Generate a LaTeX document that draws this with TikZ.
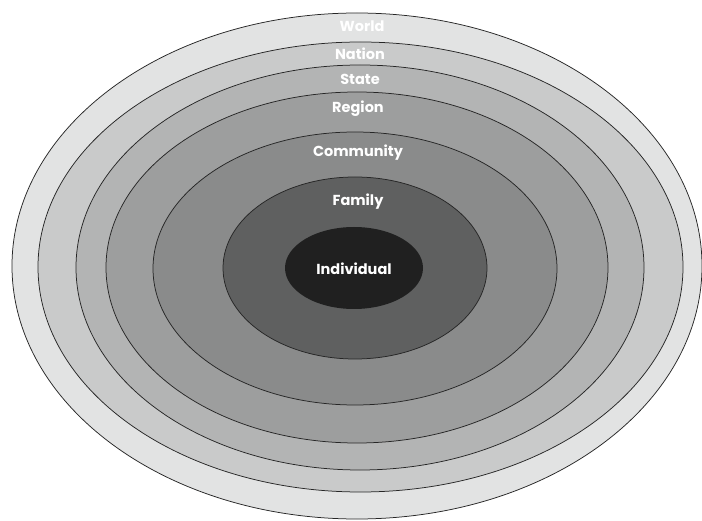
\documentclass[tikz,border=0pt]{standalone}
\usepackage{fontspec}
\setsansfont{Poppins}

\definecolor{worldgray}{HTML}{E2E3E3}
\definecolor{nationgray}{HTML}{C9CACA}
\definecolor{stategray}{HTML}{B3B4B4}
\definecolor{regiongray}{HTML}{9D9E9E}
\definecolor{communitygray}{HTML}{8A8B8B}
\definecolor{familygray}{HTML}{5F6060}
\definecolor{individualgray}{HTML}{202020}

\begin{document}
\begin{tikzpicture}[x=1pt,y=-1pt,
  ring/.style={draw=black!85, line width=0.75pt},
  lbl/.style={text=white, inner sep=0pt, font=\sffamily\bfseries\fontsize{14.5}{15}\selectfont}]
\useasboundingbox (0,0) rectangle (702,521);
\clip (0,0) rectangle (702,521);

\fill[white] (0,0) rectangle (702,521);

% rings, outside in
\filldraw[ring, fill=worldgray]      (357,266)   ellipse [x radius=345,   y radius=253];
\filldraw[ring, fill=nationgray]     (360.5,267) ellipse [x radius=322.5, y radius=225];
\filldraw[ring, fill=stategray]      (360,267.5) ellipse [x radius=284,   y radius=202.5];
\filldraw[ring, fill=regiongray]     (357,267.5) ellipse [x radius=251,   y radius=175.5];
\filldraw[ring, fill=communitygray]  (355,268.5) ellipse [x radius=202,   y radius=136.5];
\filldraw[ring, fill=familygray]     (355,268)   ellipse [x radius=132,   y radius=91];
\fill[individualgray]                (354,268)   ellipse [x radius=69,    y radius=41];

% labels
\node[lbl] (world)      at (362,26)  {World};
\node[lbl] (nation)     at (360,54)  {Nation};
\node[lbl] (state)      at (360,79)  {State};
\node[lbl] (region)     at (358,109) {Region};
\node[lbl] (community)  at (358,153) {Community};
\node[lbl] (family)     at (358,202) {Family};
\node[lbl] (individual) at (354,269) {Individual};

\end{tikzpicture}
\end{document}
